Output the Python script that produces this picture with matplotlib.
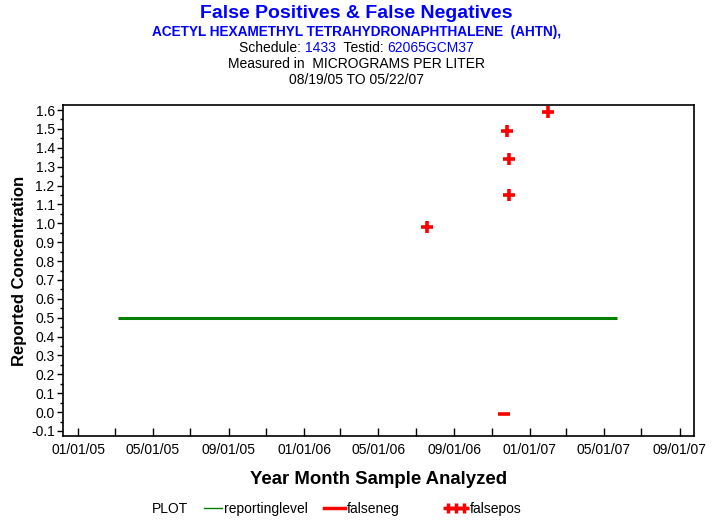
import datetime as dt
import matplotlib
matplotlib.use("Agg")
import matplotlib.pyplot as plt
import matplotlib.dates as mdates
from matplotlib.lines import Line2D
from matplotlib.legend_handler import HandlerLine2D
from matplotlib.ticker import MultipleLocator

plt.rcParams['font.family'] = ['Liberation Sans', 'DejaVu Sans']

# data
level_dates = [dt.date(2005, 3, 6), dt.date(2007, 5, 22)]
level_values = [0.5, 0.5]

falseneg_dates = [dt.date(2006, 11, 20)]
falseneg_values = [-0.01]

falsepos_dates = [dt.date(2006, 7, 19), dt.date(2006, 11, 25), dt.date(2006, 11, 28),
                  dt.date(2006, 11, 28), dt.date(2007, 1, 30)]
falsepos_values = [0.98, 1.49, 1.34, 1.15, 1.59]

W, H = 713, 523
fig = plt.figure(figsize=(W / 100, H / 100), dpi=100)
ax = fig.add_axes([63 / W, 1 - 436 / H, (694 - 63) / W, (436 - 105) / H])

ax.plot(level_dates, level_values, color='#008000', lw=2.2, solid_capstyle='butt')
ax.plot(falseneg_dates, falseneg_values, ls='none', marker='_', color='red', ms=8.5, mew=2.6)
ax.plot(falsepos_dates, falsepos_values, ls='none', marker='+', color='red', ms=8.5, mew=2.6,
        clip_on=False)

ax.set_xlim(dt.date(2004, 12, 7), dt.date(2007, 9, 24))
ax.set_ylim(-0.1265, 1.6265)

ax.xaxis.set_major_locator(mdates.MonthLocator(bymonth=[1, 5, 9]))
ax.xaxis.set_minor_locator(mdates.MonthLocator(bymonth=[3, 7, 11]))
ax.xaxis.set_major_formatter(mdates.DateFormatter('%m/%d/%y'))
ax.tick_params(axis='x', which='both', direction='in', length=6, width=1, labelsize=10, pad=5)

ax.yaxis.set_major_locator(MultipleLocator(0.1))
ax.yaxis.set_minor_locator(MultipleLocator(0.05))
ax.yaxis.set_major_formatter(matplotlib.ticker.FormatStrFormatter('%.1f'))
ax.tick_params(axis='y', which='major', direction='out', length=4, width=1, labelsize=10, pad=2)
ax.tick_params(axis='y', which='minor', direction='out', length=2, width=1)
ax.tick_params(top=False, right=False)

for sp in ax.spines.values():
    sp.set_linewidth(1.2)

ax.set_xlabel('Year Month Sample Analyzed', fontsize=13.4, fontweight='bold', labelpad=10)
ax.set_ylabel('Reported Concentration', fontsize=12, fontweight='bold', labelpad=3)

# titles
fig.text(0.5, 1 - 13 / H, 'False Positives & False Negatives', ha='center', va='center',
         fontsize=14, fontweight='bold', color='blue')
fig.text(0.5, 1 - 32 / H, 'ACETYL HEXAMETHYL TETRAHYDRONAPHTHALENE  (AHTN),', ha='center',
         va='center', fontsize=9.8, fontweight='bold', color='blue')

# mixed colour line
pieces = [('Schedule: ', 'black'), ('1433', 'blue'), ('  Testid: ', 'black'), ('62065GCM37', 'blue')]
fig.canvas.draw()
r = fig.canvas.get_renderer()
texts = [fig.text(0, 1 - 48 / H, s, color=c, fontsize=10, va='center') for s, c in pieces]
widths = [t.get_window_extent(r).width for t in texts]
x = (W - sum(widths)) / 2
for t, w in zip(texts, widths):
    t.set_x(x / W)
    x += w

fig.text(0.5, 1 - 64 / H, 'Measured in  MICROGRAMS PER LITER', ha='center', va='center', fontsize=10)
fig.text(0.5, 1 - 80 / H, '08/19/05 TO 05/22/07', ha='center', va='center', fontsize=10)

# legend
ly = 1 - 509 / H
fig.text(152 / W, ly, 'PLOT', fontsize=10, va='center')
handles = [Line2D([], [], color='#008000', lw=1),
           Line2D([], [], color='red', lw=2.5),
           Line2D([], [], color='red', lw=2.5, marker='+', ms=7, mew=2.5)]
labels = ['reportinglevel', 'falseneg', 'falsepos']
starts = [204, 324, 445]
hlens = [1.3, 1.5, 1.65]
for h, lab, x0, hl in zip(handles, labels, starts, hlens):
    npts = 3 if lab == 'falsepos' else 2
    pad = 0.25 if lab == 'falsepos' else 0.0
    fig.legend([h], [lab], loc='center left', bbox_to_anchor=(x0 / W, ly),
               frameon=False, fontsize=10, handlelength=hl, handletextpad=0.15,
               borderpad=0, borderaxespad=0,
               handler_map={h: HandlerLine2D(numpoints=npts, marker_pad=pad)})

fig.savefig('out.png', dpi=100)
